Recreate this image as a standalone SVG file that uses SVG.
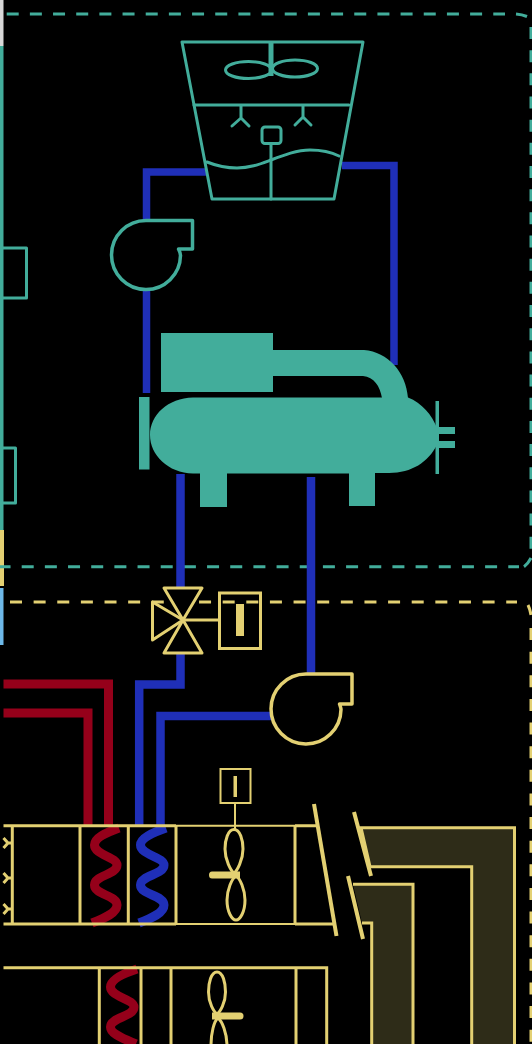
<svg xmlns="http://www.w3.org/2000/svg" width="532" height="1044" viewBox="0 0 532 1044">
<style>
.t{fill:none;stroke:#42ad9b;stroke-width:3;stroke-linejoin:round;stroke-linecap:round}
.tp{fill:#000;stroke:#42ad9b;stroke-width:3.500;stroke-linejoin:round}
.tf{fill:#42ad9b}
.y{fill:none;stroke:#e3d072;stroke-width:3}
.yp{fill:#000;stroke:#e3d072;stroke-width:3.500;stroke-linejoin:round}
.yt{fill:none;stroke:#e3d072;stroke-width:2}
.yf{fill:#e3d072}
.d{fill:#2e2c18;stroke:#e3d072;stroke-width:3}
.dm{fill:none;stroke:#e3d072;stroke-width:4;stroke-linecap:butt}
.b{fill:none;stroke:#1f2fb8;stroke-width:8.500;stroke-linejoin:miter}
.r{fill:none;stroke:#95001a;stroke-width:9}
.cb{fill:none;stroke:#1f2fb8;stroke-width:9;stroke-linecap:butt}
.cr{fill:none;stroke:#95001a;stroke-width:9;stroke-linecap:butt}
.dt{fill:none;stroke:#42ad9b;stroke-width:3;stroke-dasharray:12 11.170}
.dy{fill:none;stroke:#e3d072;stroke-width:3;stroke-dasharray:12 11.630}
</style>
<rect width="532" height="1044" fill="#000"/>
<g id="left-edge">
<rect x="0" y="0" width="3.500" height="46" fill="#d8d8d8"/>
<rect x="0" y="46" width="3.500" height="484" fill="#42ad9b"/>
<rect x="0" y="530" width="4" height="56" fill="#e3d072"/>
<rect x="0" y="588" width="3.500" height="57" fill="#6db8e8"/>
<path class="t" style="stroke-linecap:butt" d="M2 248H26.500V298H2"/>
<path class="t" style="stroke-linecap:butt" d="M2 448H15.500V503H2"/>
</g>
<g id="boundary-teal">
<path class="dt" d="M6.700 14H505"/>
<path class="dt" style="stroke-dasharray:none" d="M516 14Q522 14.500 527 16.500"/>
<path class="dt" d="M531 27V552"/>
<path class="dt" d="M-1.470 566.700H519"/>
<path class="dt" style="stroke-dasharray:none" d="M524 566.700Q528 564 531 558"/>
</g>
<g id="boundary-yellow">
<path class="dy" d="M10 602H517"/>
<path class="dy" style="stroke-dasharray:none" d="M528 605Q530 609 531 615"/>
<path class="dy" d="M531 628V1044"/>
</g>
<g id="connectors">
<path class="b" style="stroke-width:7.500" d="M146.500 221V172H206"/>
<path class="b" style="stroke-width:7.500" d="M146.500 290V393"/>
<path class="b" style="stroke-width:7.500" d="M342 165.500H394V365"/>
<path class="b" d="M180.500 474V590"/>
<path class="b" d="M180.500 650V684.500H139.200V826"/>
<path class="b" d="M311 477V676"/>
<path class="b" d="M274 716H160.500V826"/>
<path class="r" d="M3.500 684H108.500V826"/>
<path class="r" d="M3.500 713H88V826"/>
</g>
<g id="cooling-tower">
<path class="t" d="M182 42H363L334 199H212Z"/>
<path class="t" d="M194 105H349"/>
<ellipse class="t" cx="248.500" cy="70" rx="23" ry="8.500"/>
<ellipse class="t" cx="295" cy="68.500" rx="22.500" ry="8.500"/>
<path class="t" style="stroke-width:5;stroke-linecap:butt" d="M271 43V76"/>
<path class="t" d="M241 106V118L232 126M241 118L249 126"/>
<path class="t" d="M303 106V117L295 125M303 117L311 125"/>
<rect class="t" x="262" y="127" width="19" height="16.500" rx="3"/>
<path class="t" d="M271 144V199"/>
<path class="t" d="M207 162C217 166 227 168 237 168C250 168 260 164 271 160C284 155 297 150 310 150C320 150 331 152 339 156"/>
</g>
<g id="pump-condenser">
<path class="tp" d="M146 220.500H192.500V249H178.500C180 252 180.500 254 180.500 255.500A34.500 34.500 0 1 1 146 220.500Z"/>
</g>
<g id="chiller">
<rect class="tf" x="161" y="333" width="112" height="59"/>
<path class="tf" d="M270 350H364C388 352 406 372 408 398H382C380 386 374 377 363 376H270Z"/>
<rect class="tf" x="139" y="397" width="10.500" height="72.500"/>
<path class="tf" d="M193 397.500H408C422 403 432 415 437 428V445C428 462 412 473 389 473H375V506H349V473.500H227V507H200V473.500H193C168 473 150 455 150 435C150 415 168 398 193 397.500Z"/>
<rect class="tf" x="435.500" y="401" width="3.500" height="73"/>
<rect class="tf" x="438" y="427" width="17" height="7"/>
<rect class="tf" x="438" y="441" width="17" height="7"/>
</g>
<g id="valve">
<path class="yp" style="stroke-width:3" d="M164 588H202L183 620Z"/>
<path class="yp" style="stroke-width:3" d="M164 653H202L183 620Z"/>
<path class="yp" style="stroke-width:3" d="M152.500 602V640L183 620Z"/>
<path class="y" d="M183 620H219"/>
<rect class="y" x="219.500" y="593" width="41" height="55.500"/>
<rect class="yf" x="236" y="604" width="8" height="32"/>
</g>
<g id="pump-coil">
<path class="yp" d="M306 674H352V704H339.500C340.500 707 341 708 341 709.500A35 35 0 1 1 306 674Z"/>
</g>
<g id="sensor">
<rect class="yt" x="220.500" y="769" width="30" height="34"/>
<rect class="yf" x="233.500" y="776" width="3.500" height="21"/>
<path class="yt" d="M235 804V829"/>
</g>
<g id="heating-coil"><path class="cr" d="M119 828C105 833 94.500 838 94.500 845C94.500 855 117 857 117 865C117 875 94.500 875 94.500 885C94.500 895 117 895 117 905C117 913 105 918 92 923"/></g>
<g id="cooling-coil"><path class="cb" d="M166 828C152 833 140.500 838 140.500 845C140.500 855 164 857 164 865C164 875 140.500 875 140.500 885C140.500 895 164 895 164 905C164 913 152 918 139 923"/></g>
<g id="ahu-supply">
<path class="y" d="M3.500 825.700H176M3.500 924H176M12.300 825.700V924M80 825.700V924M128.300 825.700V924M176 825.700V924"/>
<path class="yt" d="M176 825.700H295M176 924H295"/>
<path class="y" d="M295 825.700V924M295 825.700H316M295 924H334"/>
<path class="dm" d="M314 804L336.500 936"/>
<path class="y" d="M12 843H8M8 843L3.500 838M8 843L3.500 848M12 878H8M8 878L3.500 873M8 878L3.500 883M12 909H8M8 909L3.500 904M8 909L3.500 914"/>
</g>
<g id="fan-supply">
<path class="y" d="M234 829.500C228 829.500 225 840 225 849C225 860 231 871 234 873C237 871 243 860 243 849C243 840 240 829.500 234 829.500Z"/>
<path class="y" d="M236 876C232 878 227 890 227 900C227 912 232 920 236 920C240 920 245 912 245 900C245 890 240 878 236 876Z"/>
<path class="yf" d="M212 871.500H240V878.500H212Q209 878.500 209 875Q209 871.500 212 871.500Z"/>
</g>
<g id="ducts">
<path class="d" d="M361 827.700H514.500V1046H471.700V866.700H370Z"/>
<path class="d" style="stroke:none" d="M353 884.300H413V1046H371.700V923H362Z"/>
<path class="y" d="M353 884.300H413V1046M371.700 1046V923H362"/>
<path class="dm" d="M354 812L371 876M348 876L363 939"/>
</g>
<g id="coil-return"><path class="cr" d="M137 969C122 974 110.500 980 110.500 987C110.500 997 134 999 134 1007C134 1017 110.500 1017 110.500 1027C110.500 1034 122 1038 136 1044"/></g>
<g id="ahu-return">
<path class="y" d="M3.500 967.700H326.700V1046M99.300 967.700V1046M141 967.700V1046M171 967.700V1046M296 967.700V1046"/>
</g>
<g id="fan-return">
<path class="y" d="M217 972C211 972 208.500 983 208.500 992C208.500 1003 214 1012 217 1014C220 1012 225.500 1003 225.500 992C225.500 983 223 972 217 972Z"/>
<path class="y" d="M218 1018C214 1021 211 1033 211 1046M218 1018C222 1021 227 1033 227 1046"/>
<path class="yf" d="M212 1012.500H240Q243.500 1012.500 243.500 1016Q243.500 1019.500 240 1019.500H212Z"/>
</g>
</svg>
